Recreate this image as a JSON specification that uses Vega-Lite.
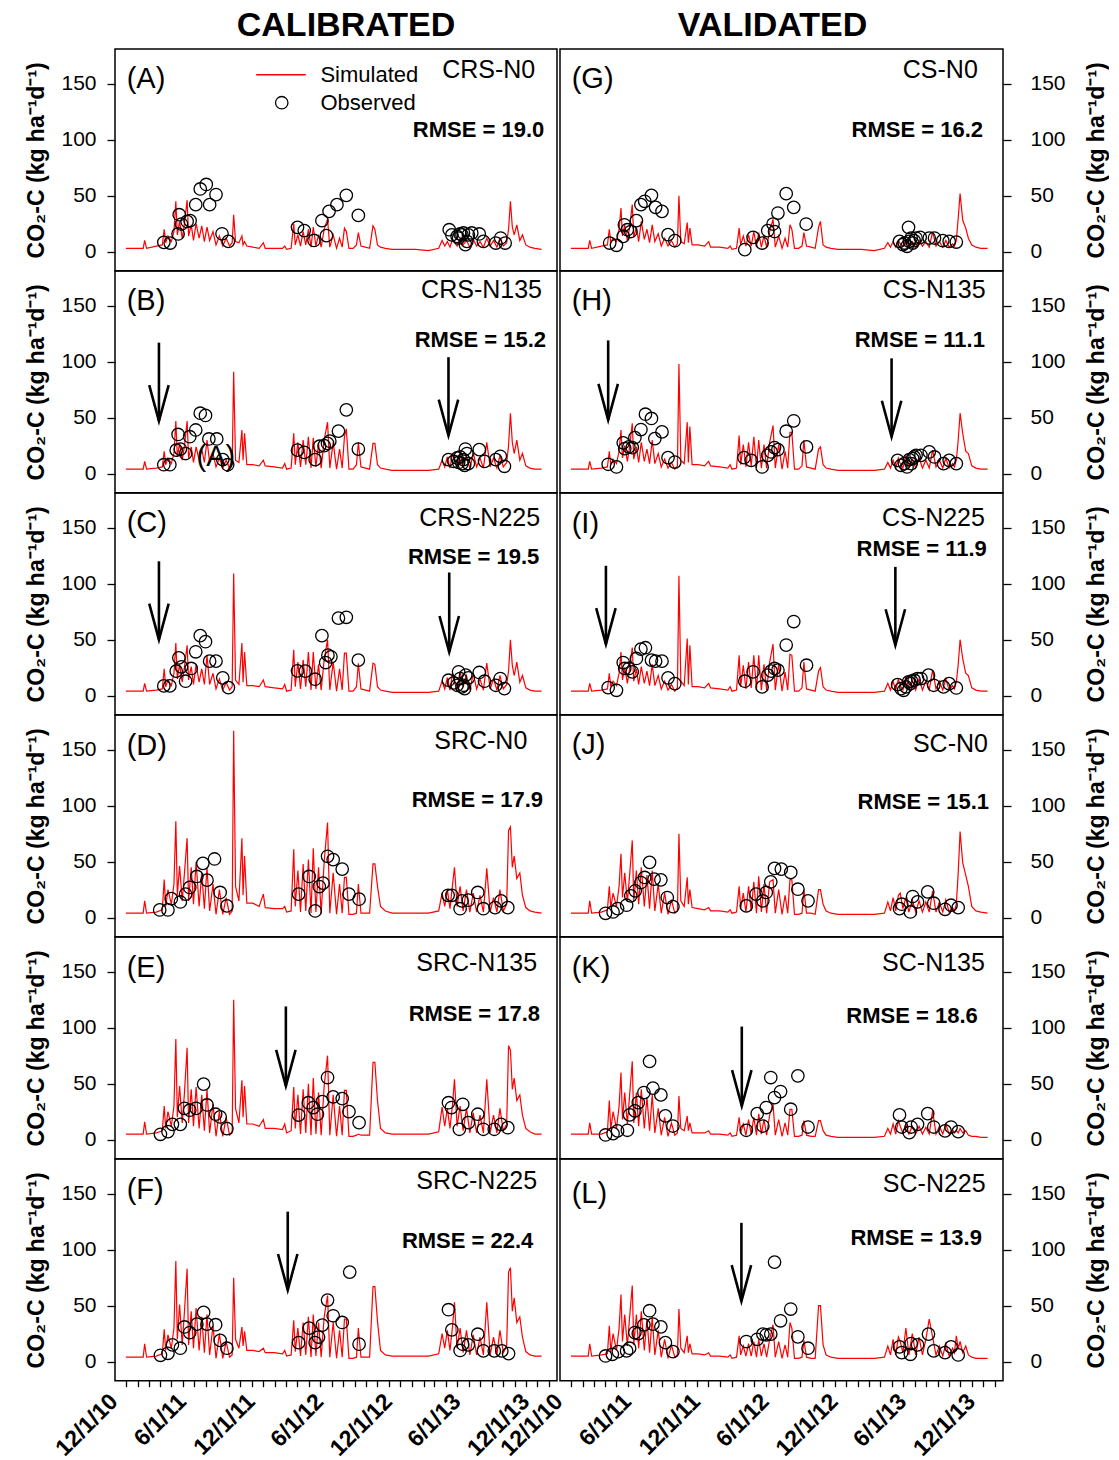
{
"$schema":"https://vega.github.io/schema/vega-lite/v6.json",
"padding":{"left":25,"top":8,"right":0,"bottom":0},
"background":"white",
"datasets":{
"sim":[
{"d":"2010-12-01","A":3,"B":4,"C":4,"D":4,"E":5,"F":4,"G":3,"H":4,"I":4,"J":4,"K":5,"L":5},
{"d":"2011-01-16","A":3,"B":4,"C":4,"D":4,"E":5,"F":4,"G":3,"H":4,"I":4,"J":4,"K":5,"L":5},
{"d":"2011-01-20","A":10,"B":11,"C":11,"D":15,"E":16,"F":16,"G":10,"H":11,"I":11,"J":15,"K":15,"L":16},
{"d":"2011-01-25","A":3,"B":4,"C":4,"D":4,"E":5,"F":4,"G":3,"H":4,"I":4,"J":4,"K":5,"L":5},
{"d":"2011-02-20","A":5,"B":5,"C":5,"D":5,"E":6,"F":5,"G":5,"H":5,"I":5,"J":5,"K":5,"L":6},
{"d":"2011-03-08","A":6,"B":6,"C":6,"D":7,"E":8,"F":7,"G":6,"H":6,"I":6,"J":7,"K":7,"L":7},
{"d":"2011-03-13","A":20,"B":20,"C":24,"D":34,"E":30,"F":29,"G":20,"H":20,"I":20,"J":28,"K":35,"L":32},
{"d":"2011-03-17","A":8,"B":8,"C":8,"D":10,"E":10,"F":10,"G":8,"H":8,"I":8,"J":9,"K":9,"L":9},
{"d":"2011-03-23","A":14,"B":14,"C":14,"D":25,"E":25,"F":24,"G":12,"H":13,"I":13,"J":22,"K":25,"L":25},
{"d":"2011-04-01","A":9,"B":9,"C":9,"D":12,"E":12,"F":12,"G":9,"H":9,"I":9,"J":10,"K":10,"L":10},
{"d":"2011-04-08","A":18,"B":18,"C":20,"D":30,"E":30,"F":30,"G":20,"H":20,"I":20,"J":28,"K":30,"L":30},
{"d":"2011-04-13","A":45,"B":47,"C":47,"D":86,"E":90,"F":90,"G":39,"H":39,"I":39,"J":57,"K":60,"L":60},
{"d":"2011-04-17","A":15,"B":15,"C":15,"D":20,"E":20,"F":20,"G":14,"H":14,"I":14,"J":18,"K":18,"L":18},
{"d":"2011-04-23","A":27,"B":27,"C":28,"D":46,"E":48,"F":51,"G":24,"H":25,"I":25,"J":40,"K":42,"L":42},
{"d":"2011-04-30","A":12,"B":12,"C":12,"D":15,"E":15,"F":15,"G":10,"H":11,"I":11,"J":14,"K":14,"L":14},
{"d":"2011-05-06","A":25,"B":25,"C":26,"D":40,"E":42,"F":45,"G":22,"H":24,"I":24,"J":38,"K":40,"L":40},
{"d":"2011-05-13","A":46,"B":47,"C":45,"D":71,"E":82,"F":83,"G":42,"H":45,"I":43,"J":69,"K":70,"L":68},
{"d":"2011-05-17","A":14,"B":14,"C":14,"D":15,"E":15,"F":15,"G":13,"H":13,"I":13,"J":15,"K":15,"L":15},
{"d":"2011-05-24","A":24,"B":24,"C":26,"D":45,"E":45,"F":45,"G":22,"H":24,"I":24,"J":42,"K":42,"L":42},
{"d":"2011-05-30","A":10,"B":10,"C":10,"D":12,"E":12,"F":12,"G":9,"H":10,"I":10,"J":12,"K":12,"L":12},
{"d":"2011-06-06","A":25,"B":24,"C":28,"D":50,"E":47,"F":48,"G":27,"H":28,"I":26,"J":45,"K":45,"L":45},
{"d":"2011-06-14","A":12,"B":12,"C":12,"D":10,"E":10,"F":10,"G":11,"H":11,"I":11,"J":10,"K":10,"L":10},
{"d":"2011-06-21","A":23,"B":22,"C":24,"D":40,"E":40,"F":40,"G":20,"H":22,"I":22,"J":38,"K":38,"L":38},
{"d":"2011-06-28","A":9,"B":10,"C":10,"D":8,"E":8,"F":8,"G":8,"H":9,"I":9,"J":8,"K":8,"L":8},
{"d":"2011-07-05","A":22,"B":30,"C":36,"D":45,"E":45,"F":42,"G":24,"H":30,"I":28,"J":42,"K":40,"L":40},
{"d":"2011-07-12","A":10,"B":10,"C":10,"D":6,"E":6,"F":6,"G":9,"H":9,"I":9,"J":6,"K":6,"L":6},
{"d":"2011-07-21","A":18,"B":18,"C":20,"D":30,"E":32,"F":32,"G":16,"H":18,"I":18,"J":30,"K":28,"L":28},
{"d":"2011-07-29","A":6,"B":6,"C":6,"D":3,"E":3,"F":3,"G":5,"H":6,"I":6,"J":4,"K":4,"L":4},
{"d":"2011-08-07","A":14,"B":14,"C":15,"D":25,"E":25,"F":25,"G":12,"H":13,"I":13,"J":22,"K":20,"L":20},
{"d":"2011-08-16","A":5,"B":5,"C":5,"D":3,"E":3,"F":3,"G":5,"H":5,"I":5,"J":3,"K":3,"L":3},
{"d":"2011-08-25","A":12,"B":12,"C":12,"D":18,"E":20,"F":18,"G":10,"H":10,"I":10,"J":16,"K":15,"L":15},
{"d":"2011-09-03","A":5,"B":5,"C":5,"D":3,"E":4,"F":4,"G":4,"H":4,"I":4,"J":4,"K":4,"L":4},
{"d":"2011-09-10","A":8,"B":8,"C":8,"D":6,"E":6,"F":6,"G":7,"H":7,"I":7,"J":6,"K":6,"L":6},
{"d":"2011-09-14","A":33,"B":91,"C":109,"D":167,"E":125,"F":75,"G":50,"H":98,"I":107,"J":75,"K":39,"L":47},
{"d":"2011-09-19","A":9,"B":12,"C":14,"D":28,"E":28,"F":20,"G":9,"H":12,"I":13,"J":15,"K":10,"L":12},
{"d":"2011-09-28","A":8,"B":10,"C":10,"D":15,"E":15,"F":12,"G":7,"H":9,"I":9,"J":10,"K":8,"L":8},
{"d":"2011-10-06","A":14,"B":39,"C":47,"D":71,"E":53,"F":31,"G":26,"H":46,"I":51,"J":36,"K":21,"L":23},
{"d":"2011-10-09","A":6,"B":12,"C":12,"D":20,"E":20,"F":14,"G":8,"H":10,"I":10,"J":12,"K":8,"L":8},
{"d":"2011-10-13","A":9,"B":36,"C":39,"D":55,"E":48,"F":27,"G":21,"H":42,"I":45,"J":25,"K":15,"L":16},
{"d":"2011-10-19","A":5,"B":8,"C":9,"D":13,"E":14,"F":10,"G":6,"H":8,"I":8,"J":9,"K":6,"L":7},
{"d":"2011-11-04","A":4,"B":8,"C":9,"D":13,"E":14,"F":10,"G":6,"H":8,"I":8,"J":8,"K":6,"L":7},
{"d":"2011-11-21","A":3,"B":7,"C":8,"D":10,"E":12,"F":9,"G":5,"H":7,"I":7,"J":7,"K":6,"L":6},
{"d":"2011-12-02","A":8,"B":12,"C":14,"D":21,"E":18,"F":12,"G":9,"H":11,"I":11,"J":9,"K":8,"L":8},
{"d":"2011-12-07","A":3,"B":7,"C":8,"D":9,"E":10,"F":8,"G":4,"H":7,"I":7,"J":6,"K":5,"L":5},
{"d":"2011-12-31","A":3,"B":6,"C":7,"D":8,"E":10,"F":8,"G":4,"H":6,"I":6,"J":6,"K":5,"L":5},
{"d":"2012-01-22","A":3,"B":5,"C":6,"D":8,"E":9,"F":7,"G":3,"H":5,"I":5,"J":5,"K":4,"L":4},
{"d":"2012-01-28","A":5,"B":9,"C":10,"D":10,"E":14,"F":10,"G":5,"H":8,"I":8,"J":7,"K":6,"L":6},
{"d":"2012-02-02","A":2,"B":4,"C":4,"D":5,"E":6,"F":5,"G":2,"H":4,"I":4,"J":4,"K":3,"L":3},
{"d":"2012-02-14","A":3,"B":5,"C":5,"D":6,"E":8,"F":6,"G":3,"H":5,"I":5,"J":5,"K":4,"L":4},
{"d":"2012-02-21","A":25,"B":36,"C":41,"D":61,"E":47,"F":37,"G":21,"H":34,"I":36,"J":28,"K":20,"L":23},
{"d":"2012-02-25","A":6,"B":8,"C":8,"D":10,"E":10,"F":9,"G":6,"H":8,"I":8,"J":8,"K":6,"L":6},
{"d":"2012-03-03","A":15,"B":28,"C":30,"D":42,"E":40,"F":30,"G":14,"H":26,"I":27,"J":22,"K":14,"L":14},
{"d":"2012-03-10","A":5,"B":6,"C":6,"D":5,"E":5,"F":5,"G":5,"H":6,"I":6,"J":5,"K":4,"L":5},
{"d":"2012-03-17","A":18,"B":30,"C":32,"D":48,"E":45,"F":35,"G":15,"H":28,"I":30,"J":28,"K":18,"L":16},
{"d":"2012-03-24","A":6,"B":8,"C":8,"D":6,"E":6,"F":6,"G":5,"H":7,"I":7,"J":6,"K":5,"L":5},
{"d":"2012-03-31","A":20,"B":33,"C":39,"D":52,"E":50,"F":40,"G":18,"H":33,"I":36,"J":32,"K":20,"L":18},
{"d":"2012-04-07","A":4,"B":5,"C":5,"D":4,"E":4,"F":4,"G":4,"H":5,"I":5,"J":4,"K":4,"L":4},
{"d":"2012-04-13","A":22,"B":32,"C":39,"D":62,"E":55,"F":42,"G":17,"H":30,"I":36,"J":37,"K":23,"L":20},
{"d":"2012-04-20","A":5,"B":6,"C":6,"D":5,"E":5,"F":5,"G":4,"H":5,"I":5,"J":5,"K":5,"L":5},
{"d":"2012-04-27","A":15,"B":27,"C":28,"D":45,"E":42,"F":35,"G":14,"H":26,"I":28,"J":30,"K":18,"L":16},
{"d":"2012-05-04","A":4,"B":5,"C":5,"D":4,"E":4,"F":4,"G":4,"H":5,"I":5,"J":4,"K":4,"L":4},
{"d":"2012-05-12","A":20,"B":30,"C":32,"D":50,"E":48,"F":40,"G":18,"H":28,"I":30,"J":32,"K":22,"L":20},
{"d":"2012-05-21","A":29,"B":46,"C":50,"D":85,"E":75,"F":59,"G":29,"H":43,"I":46,"J":34,"K":32,"L":33},
{"d":"2012-05-27","A":4,"B":5,"C":5,"D":4,"E":4,"F":4,"G":4,"H":5,"I":5,"J":4,"K":4,"L":4},
{"d":"2012-06-05","A":15,"B":28,"C":30,"D":40,"E":40,"F":35,"G":14,"H":26,"I":28,"J":25,"K":18,"L":18},
{"d":"2012-06-14","A":3,"B":4,"C":4,"D":3,"E":3,"F":3,"G":3,"H":4,"I":4,"J":3,"K":3,"L":3},
{"d":"2012-06-22","A":12,"B":22,"C":24,"D":30,"E":30,"F":28,"G":12,"H":20,"I":21,"J":20,"K":15,"L":15},
{"d":"2012-06-29","A":4,"B":5,"C":5,"D":4,"E":4,"F":4,"G":4,"H":5,"I":5,"J":4,"K":4,"L":4},
{"d":"2012-07-05","A":21,"B":33,"C":38,"D":36,"E":44,"F":38,"G":24,"H":37,"I":37,"J":34,"K":27,"L":35},
{"d":"2012-07-10","A":18,"B":40,"C":38,"D":36,"E":44,"F":38,"G":20,"H":37,"I":36,"J":34,"K":27,"L":30},
{"d":"2012-07-17","A":3,"B":4,"C":4,"D":3,"E":3,"F":3,"G":3,"H":4,"I":4,"J":3,"K":3,"L":3},
{"d":"2012-07-28","A":3,"B":4,"C":4,"D":3,"E":3,"F":3,"G":3,"H":4,"I":4,"J":3,"K":3,"L":3},
{"d":"2012-08-06","A":6,"B":8,"C":8,"D":4,"E":4,"F":4,"G":5,"H":7,"I":7,"J":4,"K":4,"L":4},
{"d":"2012-08-11","A":17,"B":28,"C":29,"D":30,"E":5,"F":30,"G":17,"H":30,"I":30,"J":25,"K":17,"L":19},
{"d":"2012-08-18","A":5,"B":6,"C":6,"D":4,"E":4,"F":4,"G":5,"H":6,"I":6,"J":4,"K":4,"L":4},
{"d":"2012-08-30","A":4,"B":5,"C":5,"D":4,"E":4,"F":4,"G":4,"H":5,"I":5,"J":4,"K":3,"L":3},
{"d":"2012-09-10","A":3,"B":4,"C":4,"D":4,"E":4,"F":4,"G":3,"H":4,"I":4,"J":3,"K":3,"L":3},
{"d":"2012-09-19","A":23,"B":27,"C":29,"D":48,"E":69,"F":67,"G":22,"H":22,"I":22,"J":25,"K":17,"L":50},
{"d":"2012-09-24","A":20,"B":27,"C":28,"D":48,"E":69,"F":67,"G":27,"H":24,"I":25,"J":25,"K":17,"L":50},
{"d":"2012-10-01","A":6,"B":8,"C":8,"D":28,"E":35,"F":36,"G":6,"H":8,"I":8,"J":12,"K":8,"L":15},
{"d":"2012-10-09","A":4,"B":5,"C":5,"D":10,"E":10,"F":10,"G":4,"H":5,"I":5,"J":6,"K":4,"L":6},
{"d":"2012-10-22","A":3,"B":4,"C":4,"D":6,"E":6,"F":6,"G":3,"H":4,"I":4,"J":4,"K":3,"L":4},
{"d":"2012-11-09","A":2,"B":3,"C":3,"D":4,"E":5,"F":5,"G":2,"H":3,"I":3,"J":3,"K":2,"L":3},
{"d":"2012-12-06","A":2,"B":3,"C":3,"D":4,"E":5,"F":5,"G":2,"H":3,"I":3,"J":3,"K":2,"L":3},
{"d":"2013-01-10","A":2,"B":3,"C":3,"D":4,"E":5,"F":5,"G":2,"H":3,"I":3,"J":3,"K":2,"L":3},
{"d":"2013-02-14","A":1,"B":3,"C":3,"D":4,"E":5,"F":5,"G":1,"H":3,"I":3,"J":3,"K":2,"L":3},
{"d":"2013-03-13","A":3,"B":4,"C":4,"D":6,"E":7,"F":7,"G":3,"H":4,"I":4,"J":4,"K":3,"L":4},
{"d":"2013-03-22","A":10,"B":12,"C":13,"D":22,"E":29,"F":25,"G":8,"H":10,"I":11,"J":14,"K":10,"L":14},
{"d":"2013-03-29","A":5,"B":6,"C":6,"D":10,"E":12,"F":12,"G":4,"H":5,"I":5,"J":6,"K":5,"L":6},
{"d":"2013-04-05","A":9,"B":15,"C":16,"D":25,"E":28,"F":28,"G":9,"H":12,"I":13,"J":18,"K":14,"L":20},
{"d":"2013-04-12","A":4,"B":5,"C":5,"D":8,"E":10,"F":10,"G":4,"H":5,"I":5,"J":6,"K":5,"L":6},
{"d":"2013-04-19","A":11,"B":18,"C":20,"D":30,"E":32,"F":32,"G":10,"H":14,"I":15,"J":20,"K":17,"L":22},
{"d":"2013-04-24","A":8,"B":12,"C":12,"D":45,"E":54,"F":53,"G":7,"H":9,"I":9,"J":22,"K":12,"L":18},
{"d":"2013-05-01","A":5,"B":6,"C":6,"D":10,"E":12,"F":12,"G":5,"H":5,"I":5,"J":8,"K":6,"L":8},
{"d":"2013-05-09","A":12,"B":20,"C":22,"D":28,"E":30,"F":30,"G":11,"H":16,"I":17,"J":18,"K":14,"L":30},
{"d":"2013-05-17","A":6,"B":8,"C":8,"D":6,"E":8,"F":8,"G":5,"H":6,"I":6,"J":5,"K":5,"L":6},
{"d":"2013-05-26","A":10,"B":16,"C":18,"D":25,"E":28,"F":28,"G":9,"H":13,"I":14,"J":16,"K":12,"L":25},
{"d":"2013-06-04","A":4,"B":5,"C":5,"D":5,"E":6,"F":6,"G":4,"H":5,"I":5,"J":5,"K":5,"L":6},
{"d":"2013-06-13","A":11,"B":18,"C":20,"D":22,"E":24,"F":24,"G":10,"H":14,"I":15,"J":15,"K":12,"L":22},
{"d":"2013-06-22","A":5,"B":6,"C":6,"D":5,"E":6,"F":6,"G":5,"H":5,"I":5,"J":5,"K":5,"L":6},
{"d":"2013-07-01","A":9,"B":14,"C":15,"D":20,"E":22,"F":22,"G":9,"H":12,"I":13,"J":14,"K":11,"L":20},
{"d":"2013-07-10","A":4,"B":5,"C":5,"D":5,"E":6,"F":6,"G":4,"H":5,"I":5,"J":5,"K":5,"L":38},
{"d":"2013-07-19","A":12,"B":28,"C":29,"D":44,"E":54,"F":53,"G":18,"H":21,"I":23,"J":24,"K":26,"L":22},
{"d":"2013-07-28","A":5,"B":6,"C":6,"D":5,"E":6,"F":6,"G":5,"H":6,"I":6,"J":5,"K":5,"L":6},
{"d":"2013-08-06","A":10,"B":14,"C":15,"D":18,"E":22,"F":22,"G":9,"H":12,"I":13,"J":14,"K":12,"L":14},
{"d":"2013-08-15","A":4,"B":5,"C":5,"D":5,"E":6,"F":6,"G":4,"H":5,"I":5,"J":5,"K":5,"L":5},
{"d":"2013-08-23","A":12,"B":16,"C":18,"D":25,"E":28,"F":28,"G":10,"H":14,"I":15,"J":16,"K":14,"L":16},
{"d":"2013-09-01","A":5,"B":6,"C":6,"D":6,"E":8,"F":8,"G":4,"H":5,"I":5,"J":5,"K":5,"L":5},
{"d":"2013-09-10","A":8,"B":10,"C":10,"D":12,"E":14,"F":14,"G":7,"H":9,"I":9,"J":9,"K":9,"L":12},
{"d":"2013-09-15","A":20,"B":25,"C":22,"D":78,"E":84,"F":80,"G":5,"H":6,"I":6,"J":6,"K":6,"L":8},
{"d":"2013-09-20","A":45,"B":54,"C":50,"D":81,"E":80,"F":84,"G":10,"H":12,"I":12,"J":12,"K":8,"L":23},
{"d":"2013-09-25","A":22,"B":28,"C":27,"D":45,"E":45,"F":45,"G":30,"H":30,"I":28,"J":40,"K":6,"L":12},
{"d":"2013-09-30","A":15,"B":18,"C":18,"D":55,"E":55,"F":57,"G":52,"H":54,"I":50,"J":77,"K":10,"L":18},
{"d":"2013-10-07","A":24,"B":30,"C":30,"D":35,"E":35,"F":35,"G":28,"H":36,"I":33,"J":49,"K":6,"L":8},
{"d":"2013-10-15","A":10,"B":12,"C":12,"D":40,"E":40,"F":40,"G":21,"H":20,"I":20,"J":38,"K":8,"L":14},
{"d":"2013-10-22","A":15,"B":18,"C":18,"D":20,"E":22,"F":22,"G":12,"H":18,"I":18,"J":28,"K":4,"L":6},
{"d":"2013-10-31","A":6,"B":7,"C":7,"D":9,"E":10,"F":9,"G":6,"H":7,"I":7,"J":10,"K":3,"L":4},
{"d":"2013-11-11","A":4,"B":5,"C":5,"D":6,"E":7,"F":6,"G":4,"H":5,"I":5,"J":6,"K":3,"L":3},
{"d":"2013-11-24","A":3,"B":4,"C":4,"D":5,"E":5,"F":5,"G":3,"H":4,"I":4,"J":5,"K":2,"L":3},
{"d":"2013-12-12","A":2,"B":4,"C":4,"D":4,"E":5,"F":5,"G":3,"H":4,"I":4,"J":4,"K":2,"L":3}
],
"obs":[
{"p":"A","d":"2011-03-12","v":8.3},{"p":"A","d":"2011-03-29","v":7.7},{"p":"A","d":"2011-04-19","v":15.8},{"p":"A","d":"2011-04-22","v":33},{"p":"A","d":"2011-04-28","v":24.7},{"p":"A","d":"2011-05-13","v":27},{"p":"A","d":"2011-05-21","v":27.7},{"p":"A","d":"2011-06-05","v":42},{"p":"A","d":"2011-06-17","v":56},{"p":"A","d":"2011-07-03","v":60},{"p":"A","d":"2011-07-12","v":42},{"p":"A","d":"2011-07-29","v":51},{"p":"A","d":"2011-08-14","v":16},{"p":"A","d":"2011-08-31","v":9.2},{"p":"A","d":"2012-03-02","v":21.7},{"p":"A","d":"2012-03-20","v":18.8},{"p":"A","d":"2012-04-15","v":10},{"p":"A","d":"2012-05-06","v":27.7},{"p":"A","d":"2012-05-18","v":14.3},{"p":"A","d":"2012-05-25","v":36},{"p":"A","d":"2012-06-15","v":42},{"p":"A","d":"2012-07-10","v":50.3},{"p":"A","d":"2012-08-11","v":32.4},{"p":"A","d":"2013-04-10","v":19.6},{"p":"A","d":"2013-04-17","v":15},{"p":"A","d":"2013-05-01","v":13.7},{"p":"A","d":"2013-05-05","v":12.2},{"p":"A","d":"2013-05-09","v":15.8},{"p":"A","d":"2013-05-14","v":15},{"p":"A","d":"2013-05-18","v":16.7},{"p":"A","d":"2013-05-23","v":6.3},{"p":"A","d":"2013-05-27","v":9.2},{"p":"A","d":"2013-05-31","v":15},{"p":"A","d":"2013-06-09","v":16.7},{"p":"A","d":"2013-06-29","v":15.8},{"p":"A","d":"2013-07-10","v":9.2},{"p":"A","d":"2013-08-12","v":7.7},{"p":"A","d":"2013-08-25","v":12.2},{"p":"A","d":"2013-09-06","v":7.7},
{"p":"B","d":"2011-03-12","v":8},{"p":"B","d":"2011-03-28","v":8},{"p":"B","d":"2011-04-14","v":21},{"p":"B","d":"2011-04-19","v":35},{"p":"B","d":"2011-04-25","v":22},{"p":"B","d":"2011-05-09","v":18},{"p":"B","d":"2011-05-20","v":33},{"p":"B","d":"2011-06-05","v":39},{"p":"B","d":"2011-06-17","v":54},{"p":"B","d":"2011-07-01","v":52},{"p":"B","d":"2011-07-10","v":31},{"p":"B","d":"2011-07-31","v":31},{"p":"B","d":"2011-08-16","v":12.5},{"p":"B","d":"2011-08-29","v":8},{"p":"B","d":"2012-03-02","v":21},{"p":"B","d":"2012-03-20","v":19},{"p":"B","d":"2012-04-18","v":12.5},{"p":"B","d":"2012-04-30","v":24.5},{"p":"B","d":"2012-05-12","v":25},{"p":"B","d":"2012-05-21","v":27},{"p":"B","d":"2012-05-27","v":29},{"p":"B","d":"2012-06-19","v":38},{"p":"B","d":"2012-07-10","v":57},{"p":"B","d":"2012-08-11","v":22},{"p":"B","d":"2013-04-08","v":12.5},{"p":"B","d":"2013-04-22","v":11},{"p":"B","d":"2013-05-01","v":14},{"p":"B","d":"2013-05-05","v":10},{"p":"B","d":"2013-05-09","v":15},{"p":"B","d":"2013-05-14","v":9},{"p":"B","d":"2013-05-18","v":12.5},{"p":"B","d":"2013-05-21","v":7.5},{"p":"B","d":"2013-05-23","v":22},{"p":"B","d":"2013-05-27","v":18},{"p":"B","d":"2013-05-31","v":9},{"p":"B","d":"2013-06-29","v":21.5},{"p":"B","d":"2013-07-13","v":11},{"p":"B","d":"2013-08-12","v":12.5},{"p":"B","d":"2013-08-24","v":15.5},{"p":"B","d":"2013-09-04","v":6.6},
{"p":"C","d":"2011-03-12","v":8.7},{"p":"C","d":"2011-03-28","v":8.7},{"p":"C","d":"2011-04-14","v":21.9},{"p":"C","d":"2011-04-21","v":33.8},{"p":"C","d":"2011-04-28","v":25.7},{"p":"C","d":"2011-05-09","v":12.9},{"p":"C","d":"2011-05-24","v":24.3},{"p":"C","d":"2011-06-05","v":39.2},{"p":"C","d":"2011-06-17","v":53.6},{"p":"C","d":"2011-07-01","v":48.2},{"p":"C","d":"2011-07-12","v":30.8},{"p":"C","d":"2011-07-29","v":30.8},{"p":"C","d":"2011-08-16","v":15.9},{"p":"C","d":"2011-08-31","v":7.2},{"p":"C","d":"2012-03-02","v":22.2},{"p":"C","d":"2012-03-23","v":21.9},{"p":"C","d":"2012-04-18","v":14.7},{"p":"C","d":"2012-05-06","v":53.6},{"p":"C","d":"2012-05-16","v":29.6},{"p":"C","d":"2012-05-22","v":36.2},{"p":"C","d":"2012-05-30","v":34.7},{"p":"C","d":"2012-06-19","v":69.2},{"p":"C","d":"2012-07-10","v":70},{"p":"C","d":"2012-08-11","v":31.7},{"p":"C","d":"2013-04-08","v":13.8},{"p":"C","d":"2013-04-22","v":11.4},{"p":"C","d":"2013-05-01","v":9.3},{"p":"C","d":"2013-05-05","v":21.3},{"p":"C","d":"2013-05-09","v":15.3},{"p":"C","d":"2013-05-14","v":7.8},{"p":"C","d":"2013-05-18","v":9.3},{"p":"C","d":"2013-05-21","v":6.3},{"p":"C","d":"2013-05-24","v":18.3},{"p":"C","d":"2013-05-31","v":15.9},{"p":"C","d":"2013-06-29","v":20.7},{"p":"C","d":"2013-07-13","v":12.9},{"p":"C","d":"2013-08-12","v":9.3},{"p":"C","d":"2013-08-24","v":15.3},{"p":"C","d":"2013-09-04","v":6.3},
{"p":"D","d":"2011-03-01","v":6.9},{"p":"D","d":"2011-03-23","v":6.9},{"p":"D","d":"2011-04-01","v":17},{"p":"D","d":"2011-04-25","v":14},{"p":"D","d":"2011-05-09","v":21},{"p":"D","d":"2011-05-20","v":27},{"p":"D","d":"2011-06-08","v":36.8},{"p":"D","d":"2011-06-24","v":48.5},{"p":"D","d":"2011-07-05","v":33.5},{"p":"D","d":"2011-07-25","v":52.4},{"p":"D","d":"2011-08-09","v":22.5},{"p":"D","d":"2011-08-27","v":10.5},{"p":"D","d":"2012-03-05","v":21},{"p":"D","d":"2012-04-02","v":36.8},{"p":"D","d":"2012-04-18","v":6},{"p":"D","d":"2012-04-29","v":27.8},{"p":"D","d":"2012-05-09","v":30.8},{"p":"D","d":"2012-05-21","v":54.8},{"p":"D","d":"2012-06-05","v":51.8},{"p":"D","d":"2012-06-29","v":43.4},{"p":"D","d":"2012-07-17","v":21},{"p":"D","d":"2012-08-13","v":16.5},{"p":"D","d":"2013-04-07","v":20},{"p":"D","d":"2013-04-17","v":20},{"p":"D","d":"2013-05-09","v":8},{"p":"D","d":"2013-05-14","v":15},{"p":"D","d":"2013-05-31","v":15.6},{"p":"D","d":"2013-06-25","v":22.5},{"p":"D","d":"2013-07-10","v":8},{"p":"D","d":"2013-08-10","v":9},{"p":"D","d":"2013-08-26","v":15},{"p":"D","d":"2013-09-13","v":9},
{"p":"E","d":"2011-03-03","v":4.8},{"p":"E","d":"2011-03-23","v":7.2},{"p":"E","d":"2011-04-04","v":13.7},{"p":"E","d":"2011-04-25","v":13.7},{"p":"E","d":"2011-05-06","v":28},{"p":"E","d":"2011-05-20","v":26.3},{"p":"E","d":"2011-06-06","v":28},{"p":"E","d":"2011-06-26","v":49.6},{"p":"E","d":"2011-07-05","v":31},{"p":"E","d":"2011-07-28","v":22.7},{"p":"E","d":"2011-08-09","v":20.3},{"p":"E","d":"2011-08-27","v":9.9},{"p":"E","d":"2012-03-05","v":22},{"p":"E","d":"2012-03-31","v":33},{"p":"E","d":"2012-04-13","v":28.7},{"p":"E","d":"2012-04-24","v":22.7},{"p":"E","d":"2012-05-07","v":34},{"p":"E","d":"2012-05-21","v":55.5},{"p":"E","d":"2012-06-05","v":38.2},{"p":"E","d":"2012-06-29","v":36.7},{"p":"E","d":"2012-07-17","v":25},{"p":"E","d":"2012-08-13","v":15.2},{"p":"E","d":"2013-04-08","v":33},{"p":"E","d":"2013-04-16","v":28.7},{"p":"E","d":"2013-05-07","v":9.3},{"p":"E","d":"2013-05-16","v":31.6},{"p":"E","d":"2013-05-31","v":15.2},{"p":"E","d":"2013-06-25","v":22.7},{"p":"E","d":"2013-07-10","v":9.3},{"p":"E","d":"2013-08-08","v":9.3},{"p":"E","d":"2013-08-26","v":13.7},{"p":"E","d":"2013-09-13","v":10.7},
{"p":"F","d":"2011-03-03","v":5.7},{"p":"F","d":"2011-03-23","v":7.5},{"p":"F","d":"2011-04-04","v":15},{"p":"F","d":"2011-04-25","v":12},{"p":"F","d":"2011-05-06","v":31},{"p":"F","d":"2011-05-20","v":26},{"p":"F","d":"2011-06-08","v":33.5},{"p":"F","d":"2011-06-26","v":44},{"p":"F","d":"2011-07-05","v":33.5},{"p":"F","d":"2011-07-28","v":33},{"p":"F","d":"2011-08-09","v":19},{"p":"F","d":"2011-08-27","v":12},{"p":"F","d":"2012-03-05","v":17},{"p":"F","d":"2012-04-02","v":30},{"p":"F","d":"2012-04-18","v":17},{"p":"F","d":"2012-04-27","v":22},{"p":"F","d":"2012-05-07","v":32.6},{"p":"F","d":"2012-05-21","v":55},{"p":"F","d":"2012-06-05","v":41},{"p":"F","d":"2012-06-29","v":35},{"p":"F","d":"2012-07-19","v":80},{"p":"F","d":"2012-08-13","v":15.6},{"p":"F","d":"2013-04-08","v":46.4},{"p":"F","d":"2013-04-17","v":28.4},{"p":"F","d":"2013-05-09","v":10},{"p":"F","d":"2013-05-16","v":15.6},{"p":"F","d":"2013-05-31","v":15},{"p":"F","d":"2013-06-25","v":24.5},{"p":"F","d":"2013-07-10","v":9.6},{"p":"F","d":"2013-08-08","v":9.6},{"p":"F","d":"2013-08-28","v":9.6},{"p":"F","d":"2013-09-15","v":7.2},
{"p":"G","d":"2011-03-14","v":7.7},{"p":"G","d":"2011-04-01","v":5.7},{"p":"G","d":"2011-04-19","v":13.7},{"p":"G","d":"2011-04-22","v":24},{"p":"G","d":"2011-04-30","v":19.6},{"p":"G","d":"2011-05-09","v":18},{"p":"G","d":"2011-05-24","v":27.7},{"p":"G","d":"2011-06-05","v":42},{"p":"G","d":"2011-06-15","v":45},{"p":"G","d":"2011-07-03","v":50.3},{"p":"G","d":"2011-07-14","v":39.6},{"p":"G","d":"2011-07-31","v":36},{"p":"G","d":"2011-08-16","v":15.2},{"p":"G","d":"2011-09-03","v":9.8},{"p":"G","d":"2012-03-07","v":1.8},{"p":"G","d":"2012-03-29","v":12.8},{"p":"G","d":"2012-04-22","v":7.7},{"p":"G","d":"2012-05-07","v":18.8},{"p":"G","d":"2012-05-21","v":24.7},{"p":"G","d":"2012-05-25","v":18},{"p":"G","d":"2012-06-03","v":34.5},{"p":"G","d":"2012-06-25","v":51.8},{"p":"G","d":"2012-07-15","v":39.6},{"p":"G","d":"2012-08-17","v":24.7},{"p":"G","d":"2013-04-22","v":9.2},{"p":"G","d":"2013-05-01","v":6.3},{"p":"G","d":"2013-05-05","v":7.7},{"p":"G","d":"2013-05-12","v":4.8},{"p":"G","d":"2013-05-16","v":21.7},{"p":"G","d":"2013-05-18","v":9.2},{"p":"G","d":"2013-05-23","v":12.2},{"p":"G","d":"2013-05-27","v":7.7},{"p":"G","d":"2013-05-31","v":9.8},{"p":"G","d":"2013-06-05","v":12.2},{"p":"G","d":"2013-06-16","v":12.8},{"p":"G","d":"2013-07-10","v":12.2},{"p":"G","d":"2013-07-24","v":12.2},{"p":"G","d":"2013-08-15","v":9.8},{"p":"G","d":"2013-09-01","v":9.2},{"p":"G","d":"2013-09-20","v":8.6},
{"p":"H","d":"2011-03-10","v":8.4},{"p":"H","d":"2011-04-01","v":6},{"p":"H","d":"2011-04-19","v":27.5},{"p":"H","d":"2011-04-23","v":22.4},{"p":"H","d":"2011-05-04","v":23.9},{"p":"H","d":"2011-05-13","v":23.3},{"p":"H","d":"2011-05-20","v":32.2},{"p":"H","d":"2011-06-05","v":39.4},{"p":"H","d":"2011-06-17","v":53.1},{"p":"H","d":"2011-07-03","v":49.3},{"p":"H","d":"2011-07-12","v":31.3},{"p":"H","d":"2011-07-31","v":37.3},{"p":"H","d":"2011-08-16","v":14.3},{"p":"H","d":"2011-09-03","v":10.4},{"p":"H","d":"2012-03-05","v":14.3},{"p":"H","d":"2012-03-24","v":11.9},{"p":"H","d":"2012-04-22","v":6},{"p":"H","d":"2012-05-07","v":16.4},{"p":"H","d":"2012-05-16","v":19.4},{"p":"H","d":"2012-05-25","v":23.3},{"p":"H","d":"2012-06-03","v":21.5},{"p":"H","d":"2012-06-25","v":37.9},{"p":"H","d":"2012-07-15","v":47.2},{"p":"H","d":"2012-08-18","v":23.9},{"p":"H","d":"2013-04-17","v":11.9},{"p":"H","d":"2013-04-26","v":7.5},{"p":"H","d":"2013-05-05","v":9},{"p":"H","d":"2013-05-12","v":6},{"p":"H","d":"2013-05-18","v":12.5},{"p":"H","d":"2013-05-23","v":9},{"p":"H","d":"2013-05-27","v":13.4},{"p":"H","d":"2013-05-31","v":14.9},{"p":"H","d":"2013-06-05","v":16.4},{"p":"H","d":"2013-06-18","v":16.4},{"p":"H","d":"2013-07-10","v":19.4},{"p":"H","d":"2013-07-24","v":14.9},{"p":"H","d":"2013-08-17","v":9},{"p":"H","d":"2013-09-01","v":11.9},{"p":"H","d":"2013-09-20","v":9},
{"p":"I","d":"2011-03-10","v":7.2},{"p":"I","d":"2011-04-01","v":4.8},{"p":"I","d":"2011-04-19","v":29.6},{"p":"I","d":"2011-04-23","v":24.3},{"p":"I","d":"2011-05-04","v":24.3},{"p":"I","d":"2011-05-13","v":21.3},{"p":"I","d":"2011-05-24","v":33.2},{"p":"I","d":"2011-06-05","v":41.6},{"p":"I","d":"2011-06-17","v":42.8},{"p":"I","d":"2011-07-03","v":31.7},{"p":"I","d":"2011-07-14","v":30.8},{"p":"I","d":"2011-07-31","v":30.8},{"p":"I","d":"2011-08-16","v":15.9},{"p":"I","d":"2011-09-03","v":10.8},{"p":"I","d":"2012-03-07","v":12.9},{"p":"I","d":"2012-03-29","v":21.3},{"p":"I","d":"2012-04-22","v":7.8},{"p":"I","d":"2012-05-07","v":18.3},{"p":"I","d":"2012-05-16","v":21.9},{"p":"I","d":"2012-05-25","v":24.3},{"p":"I","d":"2012-06-03","v":22.8},{"p":"I","d":"2012-06-25","v":45.2},{"p":"I","d":"2012-07-15","v":66.2},{"p":"I","d":"2012-08-18","v":27.2},{"p":"I","d":"2013-04-17","v":9.9},{"p":"I","d":"2013-04-26","v":6.3},{"p":"I","d":"2013-05-03","v":4.8},{"p":"I","d":"2013-05-09","v":7.8},{"p":"I","d":"2013-05-16","v":12.3},{"p":"I","d":"2013-05-21","v":10.8},{"p":"I","d":"2013-05-24","v":12.9},{"p":"I","d":"2013-05-31","v":13.8},{"p":"I","d":"2013-06-09","v":15.3},{"p":"I","d":"2013-06-18","v":15.3},{"p":"I","d":"2013-07-08","v":18.3},{"p":"I","d":"2013-07-22","v":9.3},{"p":"I","d":"2013-08-17","v":7.8},{"p":"I","d":"2013-09-01","v":10.8},{"p":"I","d":"2013-09-20","v":6.9},
{"p":"J","d":"2011-03-03","v":3.9},{"p":"J","d":"2011-03-23","v":5.1},{"p":"J","d":"2011-04-04","v":8.1},{"p":"J","d":"2011-04-28","v":11.1},{"p":"J","d":"2011-05-09","v":19.5},{"p":"J","d":"2011-05-21","v":24},{"p":"J","d":"2011-06-05","v":31.4},{"p":"J","d":"2011-06-15","v":35.9},{"p":"J","d":"2011-06-28","v":49.4},{"p":"J","d":"2011-07-10","v":34.4},{"p":"J","d":"2011-07-28","v":33.8},{"p":"J","d":"2011-08-14","v":18},{"p":"J","d":"2011-08-29","v":9.9},{"p":"J","d":"2012-03-11","v":10.5},{"p":"J","d":"2012-04-06","v":21},{"p":"J","d":"2012-04-24","v":15},{"p":"J","d":"2012-05-03","v":22.5},{"p":"J","d":"2012-05-15","v":32},{"p":"J","d":"2012-05-25","v":44},{"p":"J","d":"2012-06-12","v":43.4},{"p":"J","d":"2012-07-07","v":40.4},{"p":"J","d":"2012-07-26","v":25.4},{"p":"J","d":"2012-08-22","v":15},{"p":"J","d":"2013-04-22","v":8.1},{"p":"J","d":"2013-04-28","v":12},{"p":"J","d":"2013-05-21","v":5.1},{"p":"J","d":"2013-05-27","v":18.9},{"p":"J","d":"2013-06-09","v":14.1},{"p":"J","d":"2013-07-06","v":23},{"p":"J","d":"2013-07-22","v":12.9},{"p":"J","d":"2013-08-21","v":7.5},{"p":"J","d":"2013-09-06","v":11.1},{"p":"J","d":"2013-09-25","v":9},
{"p":"K","d":"2011-03-03","v":4.2},{"p":"K","d":"2011-03-23","v":5.4},{"p":"K","d":"2011-04-04","v":7.8},{"p":"K","d":"2011-04-30","v":8.4},{"p":"K","d":"2011-05-06","v":22.1},{"p":"K","d":"2011-05-20","v":25.7},{"p":"K","d":"2011-05-29","v":33.1},{"p":"K","d":"2011-06-13","v":42.1},{"p":"K","d":"2011-06-28","v":69.9},{"p":"K","d":"2011-07-07","v":46},{"p":"K","d":"2011-07-28","v":40},{"p":"K","d":"2011-08-09","v":21.2},{"p":"K","d":"2011-08-29","v":12.2},{"p":"K","d":"2012-03-11","v":8.4},{"p":"K","d":"2012-04-09","v":23.3},{"p":"K","d":"2012-04-24","v":12.2},{"p":"K","d":"2012-05-03","v":28.7},{"p":"K","d":"2012-05-15","v":55.5},{"p":"K","d":"2012-05-25","v":37.6},{"p":"K","d":"2012-06-10","v":43},{"p":"K","d":"2012-07-07","v":27.2},{"p":"K","d":"2012-07-26","v":57},{"p":"K","d":"2012-08-22","v":11.3},{"p":"K","d":"2013-04-22","v":22.1},{"p":"K","d":"2013-04-28","v":11.3},{"p":"K","d":"2013-05-18","v":6.3},{"p":"K","d":"2013-05-23","v":11.3},{"p":"K","d":"2013-06-09","v":13.7},{"p":"K","d":"2013-07-06","v":23.3},{"p":"K","d":"2013-07-22","v":11.3},{"p":"K","d":"2013-08-21","v":7.8},{"p":"K","d":"2013-09-06","v":11.3},{"p":"K","d":"2013-09-25","v":7.2},
{"p":"L","d":"2011-03-03","v":5.1},{"p":"L","d":"2011-03-21","v":6.6},{"p":"L","d":"2011-04-06","v":9},{"p":"L","d":"2011-04-28","v":9.6},{"p":"L","d":"2011-05-06","v":12},{"p":"L","d":"2011-05-20","v":26},{"p":"L","d":"2011-05-29","v":25.1},{"p":"L","d":"2011-06-13","v":32.9},{"p":"L","d":"2011-06-28","v":45.5},{"p":"L","d":"2011-07-07","v":33.5},{"p":"L","d":"2011-07-28","v":31.1},{"p":"L","d":"2011-08-09","v":17},{"p":"L","d":"2011-08-29","v":9},{"p":"L","d":"2012-03-11","v":18},{"p":"L","d":"2012-04-09","v":20},{"p":"L","d":"2012-04-24","v":24.6},{"p":"L","d":"2012-05-03","v":24},{"p":"L","d":"2012-05-15","v":24.6},{"p":"L","d":"2012-05-25","v":88.9},{"p":"L","d":"2012-06-10","v":36.5},{"p":"L","d":"2012-07-07","v":47},{"p":"L","d":"2012-07-26","v":22.2},{"p":"L","d":"2012-08-22","v":12},{"p":"L","d":"2013-04-22","v":13.2},{"p":"L","d":"2013-04-28","v":8.1},{"p":"L","d":"2013-05-21","v":6.6},{"p":"L","d":"2013-05-23","v":16.2},{"p":"L","d":"2013-06-09","v":15},{"p":"L","d":"2013-07-08","v":24.6},{"p":"L","d":"2013-07-22","v":9.6},{"p":"L","d":"2013-08-21","v":8.1},{"p":"L","d":"2013-09-06","v":13.2},{"p":"L","d":"2013-09-25","v":6}
],
"arrows":[
{"p":"B","d":"2011-02-27","top":117,"v":47},{"p":"B","d":"2013-04-08","top":104,"v":34},
{"p":"C","d":"2011-02-27","top":120,"v":50},{"p":"C","d":"2013-04-10","top":110,"v":39},
{"p":"H","d":"2011-03-10","top":119,"v":48},{"p":"H","d":"2013-04-01","top":103,"v":33},
{"p":"I","d":"2011-03-04","top":116,"v":46},{"p":"I","d":"2013-04-11","top":115,"v":45},
{"p":"E","d":"2012-01-31","top":119,"v":48},
{"p":"F","d":"2012-02-05","top":134,"v":64},
{"p":"K","d":"2012-02-28","top":101,"v":30},
{"p":"L","d":"2012-02-27","top":124,"v":54}
],
"ann":[
{"p":"A","k":"lab","d":"2010-12-03","v":154,"t":"(A)"},{"p":"A","k":"name","d":"2013-11-25","v":162,"t":"CRS-N0"},{"p":"A","k":"rmse","d":"2013-12-19","v":109,"t":"RMSE = 19.0"},
{"p":"A","k":"leg","d":"2012-05-02","v":158,"t":"Simulated"},{"p":"A","k":"leg","d":"2012-05-02","v":133,"t":"Observed"},
{"p":"B","k":"lab","d":"2010-12-03","v":154,"t":"(B)"},{"p":"B","k":"lab","d":"2011-06-07","v":15,"t":"(A)"},{"p":"B","k":"name","d":"2013-12-13","v":164,"t":"CRS-N135"},{"p":"B","k":"rmse","d":"2013-12-24","v":119,"t":"RMSE = 15.2"},
{"p":"C","k":"lab","d":"2010-12-03","v":154,"t":"(C)"},{"p":"C","k":"name","d":"2013-12-08","v":159,"t":"CRS-N225"},{"p":"C","k":"rmse","d":"2013-12-06","v":124,"t":"RMSE = 19.5"},
{"p":"D","k":"lab","d":"2010-12-03","v":153,"t":"(D)"},{"p":"D","k":"name","d":"2013-11-04","v":158,"t":"SRC-N0"},{"p":"D","k":"rmse","d":"2013-12-16","v":105,"t":"RMSE = 17.9"},
{"p":"E","k":"lab","d":"2010-12-03","v":153,"t":"(E)"},{"p":"E","k":"name","d":"2013-11-30","v":158,"t":"SRC-N135"},{"p":"E","k":"rmse","d":"2013-12-08","v":112,"t":"RMSE = 17.8"},
{"p":"F","k":"lab","d":"2010-12-03","v":153,"t":"(F)"},{"p":"F","k":"name","d":"2013-11-30","v":161,"t":"SRC-N225"},{"p":"F","k":"rmse","d":"2013-11-20","v":108,"t":"RMSE = 22.4"},
{"p":"G","k":"lab","d":"2010-12-03","v":154,"t":"(G)"},{"p":"G","k":"name","d":"2013-11-16","v":162,"t":"CS-N0"},{"p":"G","k":"rmse","d":"2013-11-30","v":109,"t":"RMSE = 16.2"},
{"p":"H","k":"lab","d":"2010-12-03","v":154,"t":"(H)"},{"p":"H","k":"name","d":"2013-12-07","v":164,"t":"CS-N135"},{"p":"H","k":"rmse","d":"2013-12-05","v":119,"t":"RMSE = 11.1"},
{"p":"I","k":"lab","d":"2010-12-03","v":153,"t":"(I)"},{"p":"I","k":"name","d":"2013-12-05","v":159,"t":"CS-N225"},{"p":"I","k":"rmse","d":"2013-12-10","v":131,"t":"RMSE = 11.9"},
{"p":"J","k":"lab","d":"2010-12-03","v":154,"t":"(J)"},{"p":"J","k":"name","d":"2013-12-13","v":155,"t":"SC-N0"},{"p":"J","k":"rmse","d":"2013-12-16","v":103,"t":"RMSE = 15.1"},
{"p":"K","k":"lab","d":"2010-12-03","v":153,"t":"(K)"},{"p":"K","k":"name","d":"2013-12-05","v":158,"t":"SC-N135"},{"p":"K","k":"rmse","d":"2013-11-16","v":110,"t":"RMSE = 18.6"},
{"p":"L","k":"lab","d":"2010-12-03","v":150,"t":"(L)"},{"p":"L","k":"name","d":"2013-12-07","v":159,"t":"SC-N225"},{"p":"L","k":"rmse","d":"2013-11-27","v":110,"t":"RMSE = 13.9"}
],
"legline":[{"d":"2011-11-13","d2":"2012-03-24","v":158}],
"legpt":[{"d":"2012-01-20","v":133}]
},
"columns":2,
"spacing":{"row":0,"column":3},
"bounds":"flush",
"concat":[
{"width":442,"height":221.7,
"title":{"text":"CALIBRATED","anchor":"middle","frame":"group","offset":6,"dx":10},
"encoding":{"x":{"field":"d","type":"temporal","scale":{"type":"utc","domain":[{"year":2010,"month":11,"date":2,"utc":true},{"year":2014,"month":1,"date":22,"utc":true}]},"axis":null},
"y":{"field":"v","type":"quantitative","scale":{"domain":[-17,181],"nice":false,"zero":false},"axis":{"orient":"left","values":[0,50,100,150],"title":"CO₂-C (kg ha⁻¹d⁻¹)"}}},
"layer":[
{"data":{"name":"sim"},"transform":[{"fold":["A"],"as":["p","v"]}],"mark":{"type":"line","color":"#ff0000","strokeWidth":1.2}},
{"data":{"name":"obs"},"transform":[{"filter":"datum.p=='A'"}],"mark":{"type":"point","shape":"circle","size":155,"filled":false,"color":"black","strokeWidth":1.3,"opacity":1}},
{"data":{"name":"ann"},"transform":[{"filter":"datum.p=='A' && datum.k=='lab'"}],"mark":{"type":"text","align":"left","baseline":"middle","fontSize":29},"encoding":{"text":{"field":"t"}}},
{"data":{"name":"ann"},"transform":[{"filter":"datum.p=='A' && datum.k=='name'"}],"mark":{"type":"text","align":"right","baseline":"middle","fontSize":25},"encoding":{"text":{"field":"t"}}},
{"data":{"name":"ann"},"transform":[{"filter":"datum.p=='A' && datum.k=='rmse'"}],"mark":{"type":"text","align":"right","baseline":"middle","fontSize":22,"fontWeight":"bold"},"encoding":{"text":{"field":"t"}}},
{"data":{"name":"ann"},"transform":[{"filter":"datum.p=='A' && datum.k=='leg'"}],"mark":{"type":"text","align":"left","baseline":"middle","fontSize":22},"encoding":{"text":{"field":"t"}}},
{"data":{"name":"legline"},"mark":{"type":"rule","color":"#ff0000","strokeWidth":1.3},"encoding":{"x2":{"field":"d2"}}},
{"data":{"name":"legpt"},"mark":{"type":"point","shape":"circle","size":155,"filled":false,"color":"black","strokeWidth":1.3,"opacity":1}}
]},
{"width":443,"height":221.7,
"title":{"text":"VALIDATED","anchor":"middle","frame":"group","offset":6,"dx":-9},
"encoding":{"x":{"field":"d","type":"temporal","scale":{"type":"utc","domain":[{"year":2010,"month":11,"date":2,"utc":true},{"year":2014,"month":1,"date":22,"utc":true}]},"axis":null},
"y":{"field":"v","type":"quantitative","scale":{"domain":[-17,181],"nice":false,"zero":false},"axis":{"orient":"right","values":[0,50,100,150],"title":"CO₂-C (kg ha⁻¹d⁻¹)"}}},
"layer":[
{"data":{"name":"sim"},"transform":[{"fold":["G"],"as":["p","v"]}],"mark":{"type":"line","color":"#ff0000","strokeWidth":1.2}},
{"data":{"name":"obs"},"transform":[{"filter":"datum.p=='G'"}],"mark":{"type":"point","shape":"circle","size":155,"filled":false,"color":"black","strokeWidth":1.3,"opacity":1}},
{"data":{"name":"ann"},"transform":[{"filter":"datum.p=='G' && datum.k=='lab'"}],"mark":{"type":"text","align":"left","baseline":"middle","fontSize":29},"encoding":{"text":{"field":"t"}}},
{"data":{"name":"ann"},"transform":[{"filter":"datum.p=='G' && datum.k=='name'"}],"mark":{"type":"text","align":"right","baseline":"middle","fontSize":25},"encoding":{"text":{"field":"t"}}},
{"data":{"name":"ann"},"transform":[{"filter":"datum.p=='G' && datum.k=='rmse'"}],"mark":{"type":"text","align":"right","baseline":"middle","fontSize":22,"fontWeight":"bold"},"encoding":{"text":{"field":"t"}}}
]},
{"width":442,"height":221.7,
"encoding":{"x":{"field":"d","type":"temporal","scale":{"type":"utc","domain":[{"year":2010,"month":11,"date":2,"utc":true},{"year":2014,"month":1,"date":22,"utc":true}]},"axis":null},
"y":{"field":"v","type":"quantitative","scale":{"domain":[-17,181],"nice":false,"zero":false},"axis":{"orient":"left","values":[0,50,100,150],"title":"CO₂-C (kg ha⁻¹d⁻¹)"}}},
"layer":[
{"data":{"name":"sim"},"transform":[{"fold":["B"],"as":["p","v"]}],"mark":{"type":"line","color":"#ff0000","strokeWidth":1.2}},
{"data":{"name":"obs"},"transform":[{"filter":"datum.p=='B'"}],"mark":{"type":"point","shape":"circle","size":155,"filled":false,"color":"black","strokeWidth":1.3,"opacity":1}},
{"data":{"name":"arrows"},"transform":[{"filter":"datum.p=='B'"}],"mark":{"type":"rule","color":"black","strokeWidth":2.6},"encoding":{"y2":{"field":"top"}}},
{"data":{"name":"arrows"},"transform":[{"filter":"datum.p=='B'"}],"mark":{"type":"point","shape":"M-0.27,-1L0,0L0.27,-1","size":5184,"filled":false,"color":"black","strokeWidth":2.6,"opacity":1}},
{"data":{"name":"ann"},"transform":[{"filter":"datum.p=='B' && datum.k=='lab'"}],"mark":{"type":"text","align":"left","baseline":"middle","fontSize":29},"encoding":{"text":{"field":"t"}}},
{"data":{"name":"ann"},"transform":[{"filter":"datum.p=='B' && datum.k=='name'"}],"mark":{"type":"text","align":"right","baseline":"middle","fontSize":25},"encoding":{"text":{"field":"t"}}},
{"data":{"name":"ann"},"transform":[{"filter":"datum.p=='B' && datum.k=='rmse'"}],"mark":{"type":"text","align":"right","baseline":"middle","fontSize":22,"fontWeight":"bold"},"encoding":{"text":{"field":"t"}}}
]},
{"width":443,"height":221.7,
"encoding":{"x":{"field":"d","type":"temporal","scale":{"type":"utc","domain":[{"year":2010,"month":11,"date":2,"utc":true},{"year":2014,"month":1,"date":22,"utc":true}]},"axis":null},
"y":{"field":"v","type":"quantitative","scale":{"domain":[-17,181],"nice":false,"zero":false},"axis":{"orient":"right","values":[0,50,100,150],"title":"CO₂-C (kg ha⁻¹d⁻¹)"}}},
"layer":[
{"data":{"name":"sim"},"transform":[{"fold":["H"],"as":["p","v"]}],"mark":{"type":"line","color":"#ff0000","strokeWidth":1.2}},
{"data":{"name":"obs"},"transform":[{"filter":"datum.p=='H'"}],"mark":{"type":"point","shape":"circle","size":155,"filled":false,"color":"black","strokeWidth":1.3,"opacity":1}},
{"data":{"name":"arrows"},"transform":[{"filter":"datum.p=='H'"}],"mark":{"type":"rule","color":"black","strokeWidth":2.6},"encoding":{"y2":{"field":"top"}}},
{"data":{"name":"arrows"},"transform":[{"filter":"datum.p=='H'"}],"mark":{"type":"point","shape":"M-0.27,-1L0,0L0.27,-1","size":5184,"filled":false,"color":"black","strokeWidth":2.6,"opacity":1}},
{"data":{"name":"ann"},"transform":[{"filter":"datum.p=='H' && datum.k=='lab'"}],"mark":{"type":"text","align":"left","baseline":"middle","fontSize":29},"encoding":{"text":{"field":"t"}}},
{"data":{"name":"ann"},"transform":[{"filter":"datum.p=='H' && datum.k=='name'"}],"mark":{"type":"text","align":"right","baseline":"middle","fontSize":25},"encoding":{"text":{"field":"t"}}},
{"data":{"name":"ann"},"transform":[{"filter":"datum.p=='H' && datum.k=='rmse'"}],"mark":{"type":"text","align":"right","baseline":"middle","fontSize":22,"fontWeight":"bold"},"encoding":{"text":{"field":"t"}}}
]},
{"width":442,"height":221.7,
"encoding":{"x":{"field":"d","type":"temporal","scale":{"type":"utc","domain":[{"year":2010,"month":11,"date":2,"utc":true},{"year":2014,"month":1,"date":22,"utc":true}]},"axis":null},
"y":{"field":"v","type":"quantitative","scale":{"domain":[-17,181],"nice":false,"zero":false},"axis":{"orient":"left","values":[0,50,100,150],"title":"CO₂-C (kg ha⁻¹d⁻¹)"}}},
"layer":[
{"data":{"name":"sim"},"transform":[{"fold":["C"],"as":["p","v"]}],"mark":{"type":"line","color":"#ff0000","strokeWidth":1.2}},
{"data":{"name":"obs"},"transform":[{"filter":"datum.p=='C'"}],"mark":{"type":"point","shape":"circle","size":155,"filled":false,"color":"black","strokeWidth":1.3,"opacity":1}},
{"data":{"name":"arrows"},"transform":[{"filter":"datum.p=='C'"}],"mark":{"type":"rule","color":"black","strokeWidth":2.6},"encoding":{"y2":{"field":"top"}}},
{"data":{"name":"arrows"},"transform":[{"filter":"datum.p=='C'"}],"mark":{"type":"point","shape":"M-0.27,-1L0,0L0.27,-1","size":5184,"filled":false,"color":"black","strokeWidth":2.6,"opacity":1}},
{"data":{"name":"ann"},"transform":[{"filter":"datum.p=='C' && datum.k=='lab'"}],"mark":{"type":"text","align":"left","baseline":"middle","fontSize":29},"encoding":{"text":{"field":"t"}}},
{"data":{"name":"ann"},"transform":[{"filter":"datum.p=='C' && datum.k=='name'"}],"mark":{"type":"text","align":"right","baseline":"middle","fontSize":25},"encoding":{"text":{"field":"t"}}},
{"data":{"name":"ann"},"transform":[{"filter":"datum.p=='C' && datum.k=='rmse'"}],"mark":{"type":"text","align":"right","baseline":"middle","fontSize":22,"fontWeight":"bold"},"encoding":{"text":{"field":"t"}}}
]},
{"width":443,"height":221.7,
"encoding":{"x":{"field":"d","type":"temporal","scale":{"type":"utc","domain":[{"year":2010,"month":11,"date":2,"utc":true},{"year":2014,"month":1,"date":22,"utc":true}]},"axis":null},
"y":{"field":"v","type":"quantitative","scale":{"domain":[-17,181],"nice":false,"zero":false},"axis":{"orient":"right","values":[0,50,100,150],"title":"CO₂-C (kg ha⁻¹d⁻¹)"}}},
"layer":[
{"data":{"name":"sim"},"transform":[{"fold":["I"],"as":["p","v"]}],"mark":{"type":"line","color":"#ff0000","strokeWidth":1.2}},
{"data":{"name":"obs"},"transform":[{"filter":"datum.p=='I'"}],"mark":{"type":"point","shape":"circle","size":155,"filled":false,"color":"black","strokeWidth":1.3,"opacity":1}},
{"data":{"name":"arrows"},"transform":[{"filter":"datum.p=='I'"}],"mark":{"type":"rule","color":"black","strokeWidth":2.6},"encoding":{"y2":{"field":"top"}}},
{"data":{"name":"arrows"},"transform":[{"filter":"datum.p=='I'"}],"mark":{"type":"point","shape":"M-0.27,-1L0,0L0.27,-1","size":5184,"filled":false,"color":"black","strokeWidth":2.6,"opacity":1}},
{"data":{"name":"ann"},"transform":[{"filter":"datum.p=='I' && datum.k=='lab'"}],"mark":{"type":"text","align":"left","baseline":"middle","fontSize":29},"encoding":{"text":{"field":"t"}}},
{"data":{"name":"ann"},"transform":[{"filter":"datum.p=='I' && datum.k=='name'"}],"mark":{"type":"text","align":"right","baseline":"middle","fontSize":25},"encoding":{"text":{"field":"t"}}},
{"data":{"name":"ann"},"transform":[{"filter":"datum.p=='I' && datum.k=='rmse'"}],"mark":{"type":"text","align":"right","baseline":"middle","fontSize":22,"fontWeight":"bold"},"encoding":{"text":{"field":"t"}}}
]},
{"width":442,"height":221.7,
"encoding":{"x":{"field":"d","type":"temporal","scale":{"type":"utc","domain":[{"year":2010,"month":11,"date":2,"utc":true},{"year":2014,"month":1,"date":22,"utc":true}]},"axis":null},
"y":{"field":"v","type":"quantitative","scale":{"domain":[-17,181],"nice":false,"zero":false},"axis":{"orient":"left","values":[0,50,100,150],"title":"CO₂-C (kg ha⁻¹d⁻¹)"}}},
"layer":[
{"data":{"name":"sim"},"transform":[{"fold":["D"],"as":["p","v"]}],"mark":{"type":"line","color":"#ff0000","strokeWidth":1.2}},
{"data":{"name":"obs"},"transform":[{"filter":"datum.p=='D'"}],"mark":{"type":"point","shape":"circle","size":155,"filled":false,"color":"black","strokeWidth":1.3,"opacity":1}},
{"data":{"name":"ann"},"transform":[{"filter":"datum.p=='D' && datum.k=='lab'"}],"mark":{"type":"text","align":"left","baseline":"middle","fontSize":29},"encoding":{"text":{"field":"t"}}},
{"data":{"name":"ann"},"transform":[{"filter":"datum.p=='D' && datum.k=='name'"}],"mark":{"type":"text","align":"right","baseline":"middle","fontSize":25},"encoding":{"text":{"field":"t"}}},
{"data":{"name":"ann"},"transform":[{"filter":"datum.p=='D' && datum.k=='rmse'"}],"mark":{"type":"text","align":"right","baseline":"middle","fontSize":22,"fontWeight":"bold"},"encoding":{"text":{"field":"t"}}}
]},
{"width":443,"height":221.7,
"encoding":{"x":{"field":"d","type":"temporal","scale":{"type":"utc","domain":[{"year":2010,"month":11,"date":2,"utc":true},{"year":2014,"month":1,"date":22,"utc":true}]},"axis":null},
"y":{"field":"v","type":"quantitative","scale":{"domain":[-17,181],"nice":false,"zero":false},"axis":{"orient":"right","values":[0,50,100,150],"title":"CO₂-C (kg ha⁻¹d⁻¹)"}}},
"layer":[
{"data":{"name":"sim"},"transform":[{"fold":["J"],"as":["p","v"]}],"mark":{"type":"line","color":"#ff0000","strokeWidth":1.2}},
{"data":{"name":"obs"},"transform":[{"filter":"datum.p=='J'"}],"mark":{"type":"point","shape":"circle","size":155,"filled":false,"color":"black","strokeWidth":1.3,"opacity":1}},
{"data":{"name":"ann"},"transform":[{"filter":"datum.p=='J' && datum.k=='lab'"}],"mark":{"type":"text","align":"left","baseline":"middle","fontSize":29},"encoding":{"text":{"field":"t"}}},
{"data":{"name":"ann"},"transform":[{"filter":"datum.p=='J' && datum.k=='name'"}],"mark":{"type":"text","align":"right","baseline":"middle","fontSize":25},"encoding":{"text":{"field":"t"}}},
{"data":{"name":"ann"},"transform":[{"filter":"datum.p=='J' && datum.k=='rmse'"}],"mark":{"type":"text","align":"right","baseline":"middle","fontSize":22,"fontWeight":"bold"},"encoding":{"text":{"field":"t"}}}
]},
{"width":442,"height":221.7,
"encoding":{"x":{"field":"d","type":"temporal","scale":{"type":"utc","domain":[{"year":2010,"month":11,"date":2,"utc":true},{"year":2014,"month":1,"date":22,"utc":true}]},"axis":null},
"y":{"field":"v","type":"quantitative","scale":{"domain":[-17,181],"nice":false,"zero":false},"axis":{"orient":"left","values":[0,50,100,150],"title":"CO₂-C (kg ha⁻¹d⁻¹)"}}},
"layer":[
{"data":{"name":"sim"},"transform":[{"fold":["E"],"as":["p","v"]}],"mark":{"type":"line","color":"#ff0000","strokeWidth":1.2}},
{"data":{"name":"obs"},"transform":[{"filter":"datum.p=='E'"}],"mark":{"type":"point","shape":"circle","size":155,"filled":false,"color":"black","strokeWidth":1.3,"opacity":1}},
{"data":{"name":"arrows"},"transform":[{"filter":"datum.p=='E'"}],"mark":{"type":"rule","color":"black","strokeWidth":2.6},"encoding":{"y2":{"field":"top"}}},
{"data":{"name":"arrows"},"transform":[{"filter":"datum.p=='E'"}],"mark":{"type":"point","shape":"M-0.27,-1L0,0L0.27,-1","size":5184,"filled":false,"color":"black","strokeWidth":2.6,"opacity":1}},
{"data":{"name":"ann"},"transform":[{"filter":"datum.p=='E' && datum.k=='lab'"}],"mark":{"type":"text","align":"left","baseline":"middle","fontSize":29},"encoding":{"text":{"field":"t"}}},
{"data":{"name":"ann"},"transform":[{"filter":"datum.p=='E' && datum.k=='name'"}],"mark":{"type":"text","align":"right","baseline":"middle","fontSize":25},"encoding":{"text":{"field":"t"}}},
{"data":{"name":"ann"},"transform":[{"filter":"datum.p=='E' && datum.k=='rmse'"}],"mark":{"type":"text","align":"right","baseline":"middle","fontSize":22,"fontWeight":"bold"},"encoding":{"text":{"field":"t"}}}
]},
{"width":443,"height":221.7,
"encoding":{"x":{"field":"d","type":"temporal","scale":{"type":"utc","domain":[{"year":2010,"month":11,"date":2,"utc":true},{"year":2014,"month":1,"date":22,"utc":true}]},"axis":null},
"y":{"field":"v","type":"quantitative","scale":{"domain":[-17,181],"nice":false,"zero":false},"axis":{"orient":"right","values":[0,50,100,150],"title":"CO₂-C (kg ha⁻¹d⁻¹)"}}},
"layer":[
{"data":{"name":"sim"},"transform":[{"fold":["K"],"as":["p","v"]}],"mark":{"type":"line","color":"#ff0000","strokeWidth":1.2}},
{"data":{"name":"obs"},"transform":[{"filter":"datum.p=='K'"}],"mark":{"type":"point","shape":"circle","size":155,"filled":false,"color":"black","strokeWidth":1.3,"opacity":1}},
{"data":{"name":"arrows"},"transform":[{"filter":"datum.p=='K'"}],"mark":{"type":"rule","color":"black","strokeWidth":2.6},"encoding":{"y2":{"field":"top"}}},
{"data":{"name":"arrows"},"transform":[{"filter":"datum.p=='K'"}],"mark":{"type":"point","shape":"M-0.27,-1L0,0L0.27,-1","size":5184,"filled":false,"color":"black","strokeWidth":2.6,"opacity":1}},
{"data":{"name":"ann"},"transform":[{"filter":"datum.p=='K' && datum.k=='lab'"}],"mark":{"type":"text","align":"left","baseline":"middle","fontSize":29},"encoding":{"text":{"field":"t"}}},
{"data":{"name":"ann"},"transform":[{"filter":"datum.p=='K' && datum.k=='name'"}],"mark":{"type":"text","align":"right","baseline":"middle","fontSize":25},"encoding":{"text":{"field":"t"}}},
{"data":{"name":"ann"},"transform":[{"filter":"datum.p=='K' && datum.k=='rmse'"}],"mark":{"type":"text","align":"right","baseline":"middle","fontSize":22,"fontWeight":"bold"},"encoding":{"text":{"field":"t"}}}
]},
{"width":442,"height":221.7,
"encoding":{"x":{"field":"d","type":"temporal","scale":{"type":"utc","domain":[{"year":2010,"month":11,"date":2,"utc":true},{"year":2014,"month":1,"date":22,"utc":true}]},"axis":{"tickCount":{"interval":"month","step":1},"labelExpr":"(utcmonth(datum.value)==5 || utcmonth(datum.value)==11) ? utcFormat(datum.value, '%-m/%-d/%y') : ''","title":null}},
"y":{"field":"v","type":"quantitative","scale":{"domain":[-17,181],"nice":false,"zero":false},"axis":{"orient":"left","values":[0,50,100,150],"title":"CO₂-C (kg ha⁻¹d⁻¹)"}}},
"layer":[
{"data":{"name":"sim"},"transform":[{"fold":["F"],"as":["p","v"]}],"mark":{"type":"line","color":"#ff0000","strokeWidth":1.2}},
{"data":{"name":"obs"},"transform":[{"filter":"datum.p=='F'"}],"mark":{"type":"point","shape":"circle","size":155,"filled":false,"color":"black","strokeWidth":1.3,"opacity":1}},
{"data":{"name":"arrows"},"transform":[{"filter":"datum.p=='F'"}],"mark":{"type":"rule","color":"black","strokeWidth":2.6},"encoding":{"y2":{"field":"top"}}},
{"data":{"name":"arrows"},"transform":[{"filter":"datum.p=='F'"}],"mark":{"type":"point","shape":"M-0.27,-1L0,0L0.27,-1","size":5184,"filled":false,"color":"black","strokeWidth":2.6,"opacity":1}},
{"data":{"name":"ann"},"transform":[{"filter":"datum.p=='F' && datum.k=='lab'"}],"mark":{"type":"text","align":"left","baseline":"middle","fontSize":29},"encoding":{"text":{"field":"t"}}},
{"data":{"name":"ann"},"transform":[{"filter":"datum.p=='F' && datum.k=='name'"}],"mark":{"type":"text","align":"right","baseline":"middle","fontSize":25},"encoding":{"text":{"field":"t"}}},
{"data":{"name":"ann"},"transform":[{"filter":"datum.p=='F' && datum.k=='rmse'"}],"mark":{"type":"text","align":"right","baseline":"middle","fontSize":22,"fontWeight":"bold"},"encoding":{"text":{"field":"t"}}}
]},
{"width":443,"height":221.7,
"encoding":{"x":{"field":"d","type":"temporal","scale":{"type":"utc","domain":[{"year":2010,"month":11,"date":2,"utc":true},{"year":2014,"month":1,"date":22,"utc":true}]},"axis":{"tickCount":{"interval":"month","step":1},"labelExpr":"(utcmonth(datum.value)==5 || utcmonth(datum.value)==11) ? utcFormat(datum.value, '%-m/%-d/%y') : ''","title":null}},
"y":{"field":"v","type":"quantitative","scale":{"domain":[-17,181],"nice":false,"zero":false},"axis":{"orient":"right","values":[0,50,100,150],"title":"CO₂-C (kg ha⁻¹d⁻¹)"}}},
"layer":[
{"data":{"name":"sim"},"transform":[{"fold":["L"],"as":["p","v"]}],"mark":{"type":"line","color":"#ff0000","strokeWidth":1.2}},
{"data":{"name":"obs"},"transform":[{"filter":"datum.p=='L'"}],"mark":{"type":"point","shape":"circle","size":155,"filled":false,"color":"black","strokeWidth":1.3,"opacity":1}},
{"data":{"name":"arrows"},"transform":[{"filter":"datum.p=='L'"}],"mark":{"type":"rule","color":"black","strokeWidth":2.6},"encoding":{"y2":{"field":"top"}}},
{"data":{"name":"arrows"},"transform":[{"filter":"datum.p=='L'"}],"mark":{"type":"point","shape":"M-0.27,-1L0,0L0.27,-1","size":5184,"filled":false,"color":"black","strokeWidth":2.6,"opacity":1}},
{"data":{"name":"ann"},"transform":[{"filter":"datum.p=='L' && datum.k=='lab'"}],"mark":{"type":"text","align":"left","baseline":"middle","fontSize":29},"encoding":{"text":{"field":"t"}}},
{"data":{"name":"ann"},"transform":[{"filter":"datum.p=='L' && datum.k=='name'"}],"mark":{"type":"text","align":"right","baseline":"middle","fontSize":25},"encoding":{"text":{"field":"t"}}},
{"data":{"name":"ann"},"transform":[{"filter":"datum.p=='L' && datum.k=='rmse'"}],"mark":{"type":"text","align":"right","baseline":"middle","fontSize":22,"fontWeight":"bold"},"encoding":{"text":{"field":"t"}}}
]}
],
"config":{
"font":"Liberation Sans",
"view":{"stroke":"black","strokeWidth":1.5},
"axis":{"grid":false,"domain":false,"tickColor":"black","labelColor":"black","titleColor":"black","tickWidth":1.3},
"axisLeft":{"labelFontSize":21,"tickSize":8,"labelPadding":11,"titleFontSize":23,"titleFontWeight":"bold","titlePadding":12},
"axisRight":{"labelFontSize":21,"tickSize":8,"labelPadding":19,"titleFontSize":23,"titleFontWeight":"bold","titlePadding":20,"titleAngle":270,"titleBaseline":"top","labelAlign":"left"},
"axisBottom":{"labelFontSize":23,"labelFontWeight":"bold","tickSize":6,"labelAngle":-45,"labelAlign":"right","labelBaseline":"top","labelOverlap":false,"labelFlush":false,"labelPadding":3,"labelOffset":-20},
"title":{"fontSize":34,"fontWeight":"bold","color":"black"}
}
}
